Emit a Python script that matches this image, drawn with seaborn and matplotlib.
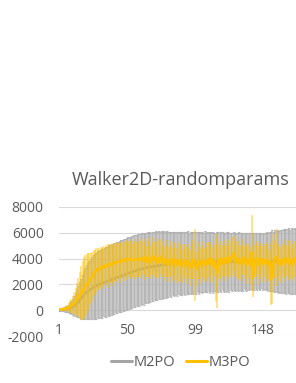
import numpy as np
import pandas as pd
import matplotlib
matplotlib.use("Agg")
import matplotlib.pyplot as plt
import seaborn as sns
from matplotlib.lines import Line2D

# mean return per iteration, and error bar half-widths
m2po_mean = [
    0, 20, 40, 50, 60, 80, 100, 120, 150, 200,
    260, 330, 420, 520, 650, 780, 900, 1050, 1200, 1320,
    1400, 1480, 1570, 1640, 1720, 1770, 1850, 1890, 1960, 2000,
    2050, 2070, 2140, 2160, 2210, 2240, 2300, 2320, 2390, 2410,
    2470, 2490, 2550, 2570, 2620, 2640, 2710, 2730, 2790, 2810,
    2870, 2890, 2950, 2970, 3020, 3040, 3090, 3100, 3150, 3160,
    3210, 3220, 3260, 3270, 3310, 3320, 3360, 3360, 3410, 3410,
    3450, 3430, 3490, 3470, 3520, 3500, 3550, 3530, 3580, 3560,
    3600, 3560, 3620, 3590, 3640, 3580, 3650, 3610, 3680, 3620,
    3690, 3630, 3650, 3700, 3640, 3660, 3720, 3650, 3700, 3670,
    3720, 3660, 3740, 3690, 3700, 3760, 3680, 3720, 3750, 3690,
    3770, 3710, 3740, 3700, 3780, 3720, 3750, 3730, 3790, 3710,
    3760, 3740, 3800, 3720, 3770, 3750, 3810, 3730, 3780, 3750,
    3820, 3740, 3790, 3760, 3810, 3730, 3780, 3760, 3830, 3740,
    3790, 3770, 3830, 3750, 3800, 3770, 3840, 3740, 3800, 3780,
    3830, 3750, 3790, 3780, 3840, 3740, 3800, 3790, 3830, 3750,
    3800, 3780, 3840, 3760, 3790, 3790, 3830, 3740, 3800, 3780,
    3830, 3770,
]
m2po_err = [
    80, 100, 120, 150, 180, 220, 260, 320, 400, 500,
    620, 760, 900, 1050, 1200, 1380, 1550, 1700, 1850, 1980,
    2100, 2200, 2280, 2350, 2420, 2480, 2520, 2560, 2600, 2620,
    2630, 2650, 2600, 2680, 2700, 2660, 2720, 2690, 2740, 2700,
    2750, 2720, 2770, 2730, 2760, 2790, 2740, 2780, 2750, 2800,
    2770, 2810, 2760, 2800, 2780, 2820, 2770, 2810, 2790, 2760,
    2740, 2780, 2720, 2700, 2730, 2680, 2700, 2660, 2690, 2640,
    2660, 2620, 2640, 2600, 2620, 2580, 2600, 2560, 2580, 2540,
    2500, 2540, 2480, 2510, 2450, 2490, 2430, 2470, 2420, 2450,
    2400, 2440, 2380, 2420, 2360, 2400, 2350, 2390, 2340, 2380,
    2330, 2370, 2320, 2360, 2310, 2350, 2300, 2340, 2290, 2330,
    2300, 2340, 2280, 2320, 2270, 2310, 2260, 2300, 2250, 2290,
    2260, 2300, 2240, 2280, 2230, 2270, 2220, 2260, 2210, 2250,
    2220, 2260, 2200, 2240, 2190, 2230, 2180, 2220, 2170, 2210,
    2180, 2220, 2160, 2200, 2150, 2190, 2140, 2180, 2150, 2200,
    2220, 2260, 2300, 2280, 2340, 2320, 2380, 2360, 2420, 2400,
    2450, 2430, 2480, 2460, 2500, 2490, 2520, 2510, 2540, 2530,
    2550, 2540,
]
m3po_mean = [
    50, 60, 70, 90, 110, 130, 160, 200, 260, 340,
    430, 550, 680, 830, 1000, 1180, 1350, 1520, 1700, 1850,
    2000, 2150, 2300, 2450, 2650, 2900, 2950, 3100, 3200, 3150,
    3300, 3350, 3300, 3450, 3500, 3400, 3550, 3600, 3500, 3650,
    3700, 3650, 3750, 3800, 3700, 3850, 3900, 3800, 3950, 3900,
    4000, 3900, 3950, 3850, 3900, 4000, 3950, 3850, 3950, 4000,
    4050, 3800, 4150, 3750, 4000, 4100, 3700, 3950, 4200, 3900,
    3950, 3650, 4000, 4150, 3750, 3950, 3600, 4000, 3800, 3550,
    3850, 4000, 3500, 3800, 3950, 3450, 3750, 3900, 3550, 3400,
    3750, 3900, 3450, 3800, 3600, 3300, 3750, 3950, 3500, 3200,
    3700, 3850, 3400, 3750, 3900, 3500, 3800, 3550, 3950, 3650,
    4000, 3500, 3800, 3300, 2900, 3750, 3950, 3550, 3850, 4050,
    3650, 3900, 4100, 3700, 3950, 4200, 4400, 3800, 4000, 3650,
    3950, 3600, 3900, 4100, 3700, 3550, 3950, 3800, 3450, 4500,
    2600, 3750, 3950, 4050, 3500, 3800, 4000, 3550, 3850, 3650,
    3950, 3500, 3800, 2400, 3200, 3800, 4000, 4100, 3650, 3900,
    3500, 3800, 4000, 3600, 3850, 4050, 3650, 3900, 3500, 3800,
    4000, 3650,
]
m3po_err = [
    60, 80, 100, 120, 150, 200, 260, 340, 430, 550,
    700, 880, 1050, 1250, 1500, 1800, 2100, 2300, 2400, 2400,
    2350, 2250, 2100, 2000, 1900, 1800, 1750, 1700, 1650, 1600,
    1600, 1500, 1650, 1450, 1550, 1700, 1400, 1500, 1600, 1450,
    1500, 1350, 1550, 1400, 1600, 1450, 1300, 1500, 1400, 1550,
    1350, 1500, 1400, 1300, 1450, 1550, 1350, 1250, 1400, 1500,
    1300, 1450, 1350, 1200, 1400, 1500, 1300, 1250, 1450, 1350,
    1400, 1250, 1500, 1350, 1200, 1400, 1300, 1450, 1250, 1350,
    1200, 1400, 1300, 1450, 1250, 1350, 1500, 1200, 1400, 1300,
    1350, 1250, 1450, 1300, 1200, 1400, 1350, 1500, 2800, 1300,
    1250, 1400, 1350, 1200, 1450, 1300, 1400, 1250, 1350, 1500,
    1300, 1400, 1250, 2600, 2700, 1350, 1450, 1300, 1200, 1400,
    1350, 1250, 1450, 1300, 1400, 1500, 1350, 1250, 1400, 1300,
    1450, 1350, 1200, 1400, 1300, 1500, 1250, 1350, 1450, 2900,
    1600, 1300, 1400, 1250, 1450, 1350, 1200, 1400, 1300, 1500,
    1350, 1250, 1400, 2000, 2700, 1300, 1450, 2200, 1350, 1250,
    1400, 1300, 1450, 1350, 1200, 1400, 1300, 1450, 1250, 1350,
    1400, 1300,
]
x_ticks = [1, 50, 99, 148]
y_ticks = [-2000, 0, 2000, 4000, 6000, 8000]
title = "Walker2D-randomparams"

iters = np.arange(1, len(m2po_mean) + 1)
df = pd.DataFrame({"iter": iters, "M2PO": m2po_mean, "M3PO": m3po_mean,
                   "M2PO_err": m2po_err, "M3PO_err": m3po_err})

sns.set_theme(style="white")
plt.rcParams["font.family"] = ["Open Sans", "DejaVu Sans"]
plt.rcParams["axes.unicode_minus"] = False
txt = "#595959"
gray, gold = "#A5A5A5", "#FFC000"

fig = plt.figure(figsize=(2.96, 3.83), dpi=100)
ax = fig.add_axes([59 / 296, 1 - 336 / 383, 1 - 59 / 296, (336 - 207) / 383])

for y in y_ticks:
    ax.axhline(y, color="#D9D9D9", lw=0.8, zorder=0)

ax.errorbar(df["iter"], df["M2PO"], yerr=df["M2PO_err"], fmt="none",
            ecolor="#AFAFAF", elinewidth=1.15, alpha=0.85, capsize=0.8,
            capthick=0.8, zorder=1)
sns.lineplot(df, x="iter", y="M2PO", color=gray, lw=1.8, ax=ax, zorder=2)
ax.errorbar(df["iter"], df["M3PO"], yerr=df["M3PO_err"], fmt="none",
            ecolor=gold, elinewidth=1.15, alpha=0.55, zorder=3)
sns.lineplot(df, x="iter", y="M3PO", color=gold, lw=1.8, ax=ax, zorder=4)

ax.set_xlim(1, 172)
ax.set_ylim(-2000, 8000)
ax.set_xticks(x_ticks)
ax.set_yticks(y_ticks)
ax.set_xlabel("")
ax.set_ylabel("")
ax.tick_params(axis="y", length=0, pad=11, labelsize=10, labelcolor=txt)
ax.tick_params(axis="x", length=0, pad=-9, labelsize=10, labelcolor=txt)
sns.despine(ax=ax, left=True, bottom=True)

fig.text(181 / 296, 1 - 180 / 383, title, ha="center", va="center",
         fontsize=13, color=txt)

handles = [Line2D([], [], color=gray, lw=2.2), Line2D([], [], color=gold, lw=2.2)]
fig.legend(handles, ["M2PO", "M3PO"], loc="center", bbox_to_anchor=(181 / 296, 1 - 363 / 383),
           ncol=2, frameon=False, fontsize=10.5, labelcolor=txt, handlelength=1.4,
           handletextpad=0.15, columnspacing=0.75)

fig.savefig("out.png", dpi=100)
